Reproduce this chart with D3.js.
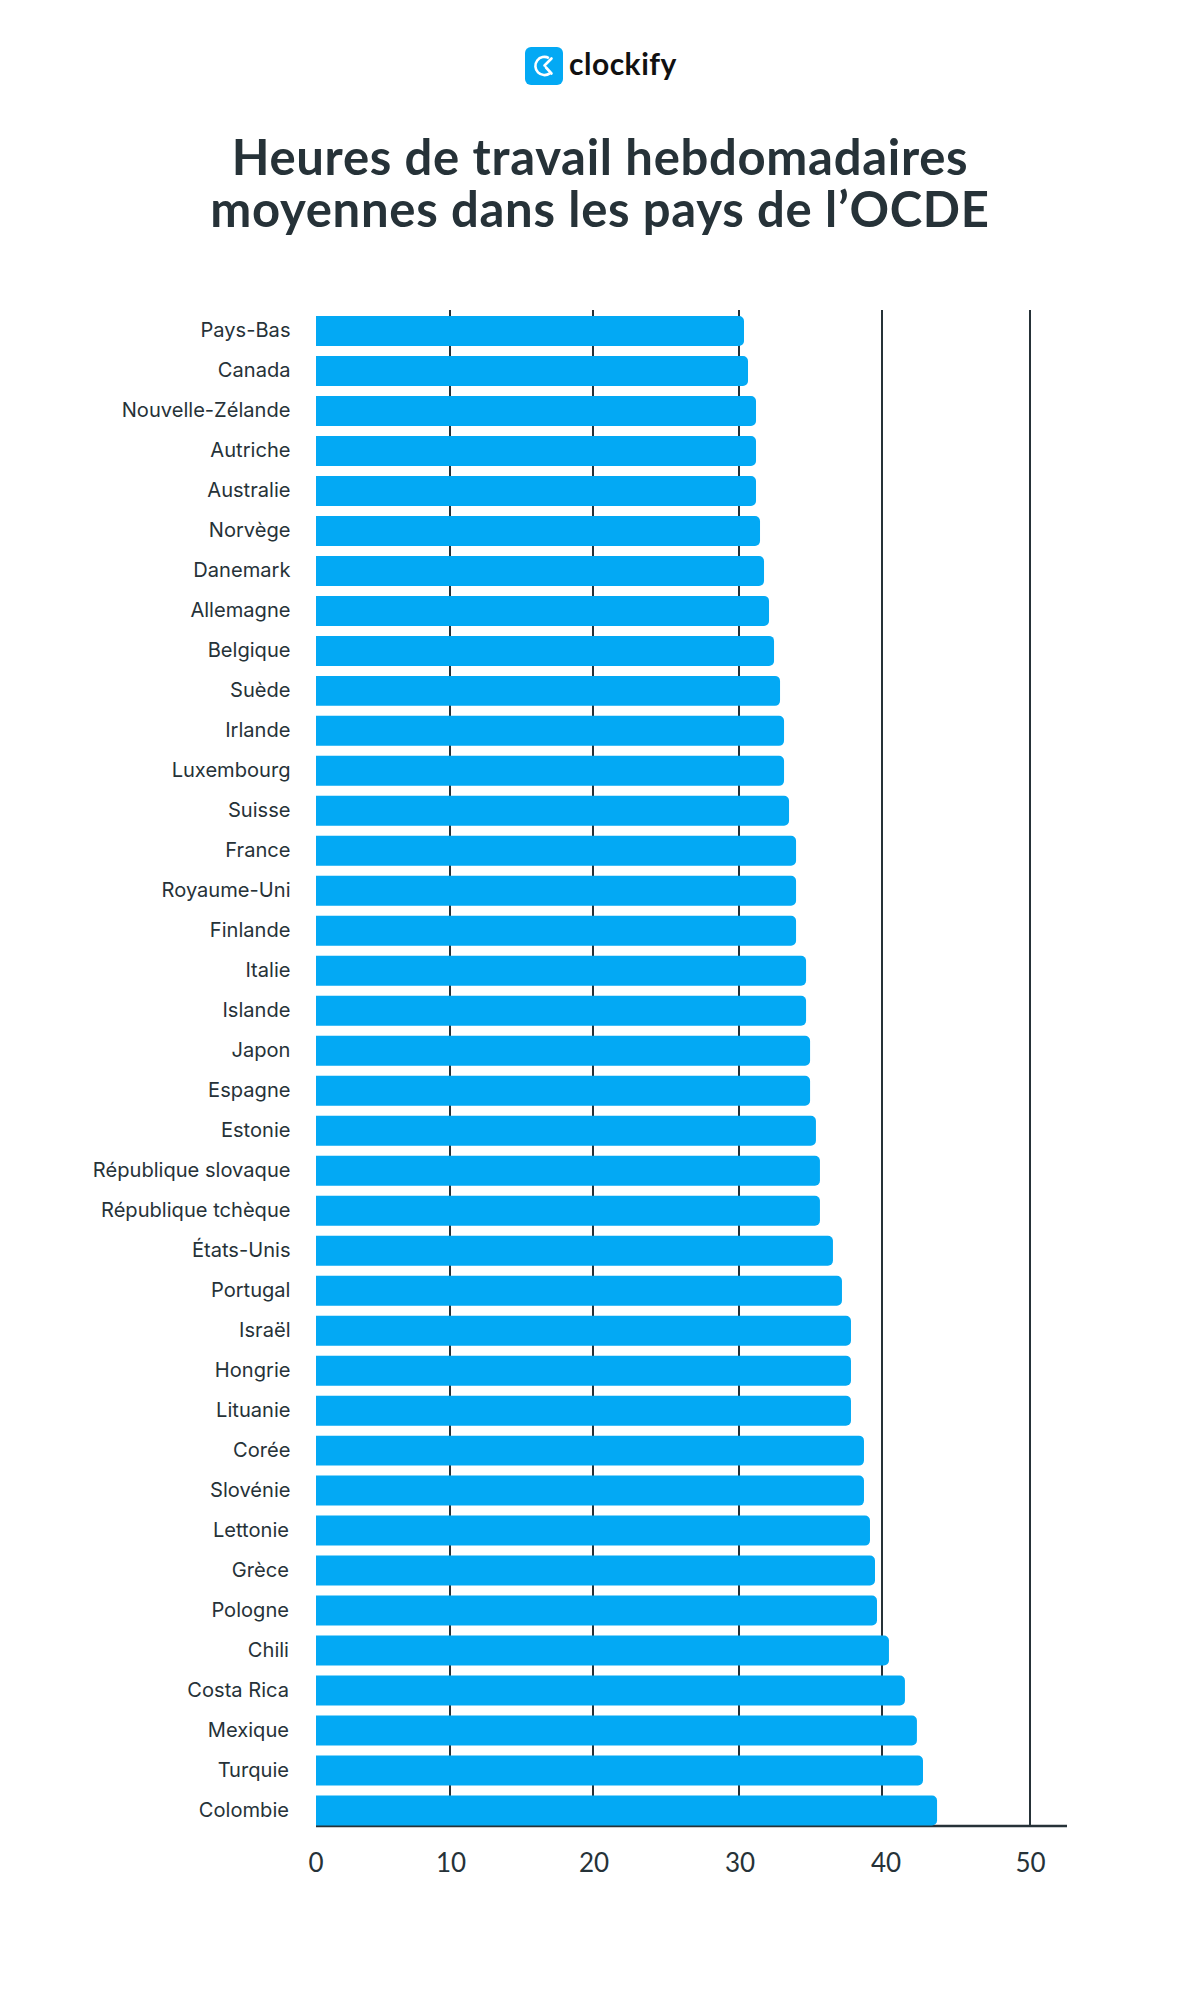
<!DOCTYPE html>
<html><head><meta charset="utf-8">
<script src="https://cdn.jsdelivr.net/npm/d3@7"></script>
<style>html,body{margin:0;padding:0;background:#fff}svg{display:block}</style>
</head><body><div id="chart"></div>
<script>
const countries = ["Pays-Bas","Canada","Nouvelle-Zélande","Autriche","Australie","Norvège","Danemark","Allemagne","Belgique","Suède","Irlande","Luxembourg","Suisse","France","Royaume-Uni","Finlande","Italie","Islande","Japon","Espagne","Estonie","République slovaque","République tchèque","États-Unis","Portugal","Israël","Hongrie","Lituanie","Corée","Slovénie","Lettonie","Grèce","Pologne","Chili","Costa Rica","Mexique","Turquie","Colombie"];
const hours = [30.35,30.63,31.19,31.19,31.19,31.47,31.75,32.1,32.45,32.87,33.15,33.15,33.5,33.99,33.99,33.99,34.69,34.69,34.97,34.97,35.38,35.66,35.66,36.57,37.2,37.83,37.83,37.83,38.74,38.74,39.16,39.51,39.65,40.47,41.55,42.36,42.77,43.72];
const tickValues = [0,10,20,30,40,50];
const titleLines = ["Heures de travail hebdomadaires","moyennes dans les pays de l’OCDE"];
const ink = "#263238", blue = "#03a9f4";

const W = 1200, H = 1996;
const svg = d3.select("#chart").append("svg").attr("width",W).attr("height",H).attr("viewBox",[0,0,W,H]);

// gridlines in the source are unevenly spaced, so the scale is piecewise
const x = d3.scaleLinear().domain([0,10,20,30,40,50,52.5]).range([316,450,593,739,882,1030,1067]);
// the tick labels in the source sit slightly off their gridlines
const xLabel = d3.scaleLinear().domain(tickValues).range([316,451,594,740,886,1030.5]);
const y = d3.scaleBand().domain(countries).range([316,1825.5]).paddingInner(0.25).paddingOuter(0);
const axisY = 1826;

// title
svg.append("g").selectAll("text").data(titleLines).join("text")
  .attr("x",600).attr("y",(d,i)=>175+i*52)
  .attr("text-anchor","middle").attr("fill",ink)
  .attr("font-family","Lato").attr("font-weight",700).attr("font-size",49).attr("letter-spacing",0.7)
  .text(d=>d);

// logo
const logo = svg.append("g").attr("transform","translate(525,47)");
logo.append("rect").attr("width",38).attr("height",38).attr("rx",6).attr("fill",blue);
const arc = d3.arc()({innerRadius:7.8,outerRadius:10.4,startAngle:Math.PI*0.8,endAngle:Math.PI*2.16});
logo.append("path").attr("transform","translate(19.5,19)").attr("d",arc).attr("fill","#fff");
logo.append("path").attr("d","M26.5 11.5 L19.5 18.5 M21 20.5 L26.5 26.5").attr("fill","none").attr("stroke","#fff").attr("stroke-width",2.6).attr("stroke-linecap","round");
svg.append("text").attr("x",569).attr("y",75).attr("font-family","Lato").attr("font-weight",700)
  .attr("font-size",30).attr("letter-spacing",0.5).attr("fill","#111").text("clockify");

// x axis with full-height gridlines
const gx = svg.append("g").attr("transform",`translate(0,${axisY})`)
  .call(d3.axisBottom(x).offset(0).tickValues(tickValues).tickSizeInner(-1516).tickSizeOuter(0).tickPadding(27.5));
gx.select(".domain").attr("stroke",ink).attr("stroke-width",2.4);
gx.selectAll(".tick line").attr("stroke",ink).attr("stroke-width",2)
  .attr("display",d=>d===0?"none":null);
gx.selectAll(".tick text").attr("fill",ink).attr("font-family","Lato").attr("font-size",26)
  .attr("dx",d=>xLabel(d)-x(d));

// bars: square at the baseline, rounded on the value end
const r = 5;
svg.append("g").selectAll("path").data(countries).join("path")
  .attr("fill",blue)
  .attr("d",(c,i)=>{
    const p = d3.path(), x0=x(0), x1=x(hours[i]), y0=y(c), y1=y0+y.bandwidth();
    p.moveTo(x0,y0); p.lineTo(x1-r,y0); p.arcTo(x1,y0,x1,y0+r,r);
    p.lineTo(x1,y1-r); p.arcTo(x1,y1,x1-r,y1,r); p.lineTo(x0,y1); p.closePath();
    return p.toString();
  });

// y axis labels (the last rows sit a little further left in the source)
const gy = svg.append("g").attr("transform","translate(316,0)")
  .call(d3.axisLeft(y).offset(0).tickSize(0).tickPadding(25.5));
gy.select(".domain").remove();
gy.selectAll(".tick text").attr("fill",ink).attr("font-family","Inter").attr("font-size",20.1)
  .attr("dx",(d,i)=>i>=30?-1.5:0);
</script></body></html>
